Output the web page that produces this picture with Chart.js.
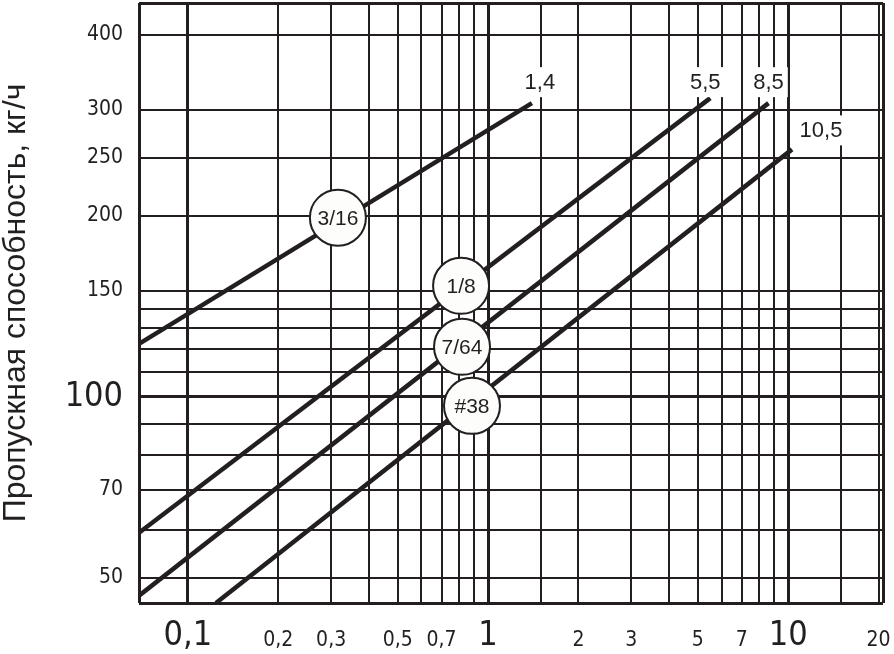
<!DOCTYPE html>
<html>
<head>
<meta charset="utf-8">
<script src="https://cdn.jsdelivr.net/npm/chart.js@4.4.1/dist/chart.umd.min.js"></script>
<style>
  html, body { margin: 0; padding: 0; background: #fff; }
  canvas { display: block; }
</style>
</head>
<body>
<canvas id="FlowChart" width="894" height="654"></canvas>
<script>
// labels at the line ends and in the circles
const endLabels = ['1,4', '5,5', '8,5', '10,5'];
const badgeLabels = ['3/16', '1/8', '7/64', '#38'];

// each line is straight on log-log paper: start and end
const xFrom = [0.0687, 0.0687, 0.0687, 0.124];
const yFrom = [122.5, 59.4, 46.7, 45.4];
const xTo = [1.4, 5.5, 8.6, 10.3];
const yTo = [308, 314, 308, 258];

// where the circles sit on the lines
const badgeX = [0.316, 0.813, 0.819, 0.884];
const badgeY = [198.6, 153, 121.1, 96.6];

// axes
const xMin = 0.0687, xMax = 20.7;
const yMin = 45.4, yMax = 452;
const xGridValues = [0.1, 0.2, 0.3, 0.4, 0.5, 0.6, 0.7, 0.8, 0.9, 1, 1.5, 2, 3, 4, 5, 6, 7, 8, 9, 10, 15, 20];
const xTickValues = [0.1, 0.2, 0.3, 0.5, 0.7, 1, 2, 3, 5, 7, 10, 20];
const xTickLabels = ['0,1', '0,2', '0,3', '0,5', '0,7', '1', '2', '3', '5', '7', '10', '20'];
const xBigTicks = [0.1, 1, 10];
const yGridValues = [50, 60, 70, 80, 90, 100, 110, 120, 130, 140, 150, 200, 250, 300, 400];
const yTickValues = [50, 70, 100, 150, 200, 250, 300, 400];
const yTickLabels = ['50', '70', '100', '150', '200', '250', '300', '400'];
const yBigTicks = [100];

const ink = '#231f20';
const narrow = '"Liberation Sans Narrow", "DejaVu Sans Condensed", sans-serif';
const plain = '"Liberation Sans", Arial, sans-serif';

function findIn(list, v)
{
    for (let i = 0; i < list.length; i++)
        if (Math.abs(list[i] - v) < 1e-9 * Math.max(1, Math.abs(v))) return i;
    return -1;
}

function tickValue(ctx)
{
    return ctx.tick ? ctx.tick.value : NaN;
}

// pixel nudges for the end labels, relative to the line end
const labelShift = [[8, -21], [-5, -16], [0, -21], [29, -19]];

const annotate = {
    id: 'annotate',
    afterDatasetsDraw(chart)
    {
        const ctx = chart.ctx;
        ctx.save();
        ctx.textAlign = 'center';
        ctx.textBaseline = 'middle';

        ctx.font = '22px ' + plain;
        for (let i = 0; i < endLabels.length; i++)
        {
            let pt = chart.getDatasetMeta(i + 1).data[1];
            let x = pt.x + labelShift[i][0];
            let y = pt.y + labelShift[i][1];
            let w = ctx.measureText(endLabels[i]).width + 8;
            ctx.fillStyle = '#fff';
            ctx.fillRect(x - w / 2, y - 15, w, 30);
            ctx.fillStyle = ink;
            ctx.fillText(endLabels[i], x, y + 1);
        }

        ctx.font = '21px ' + plain;
        ctx.fillStyle = ink;
        chart.getDatasetMeta(0).data.forEach(function(pt, i) {
            ctx.fillText(badgeLabels[i], pt.x, pt.y + 1);
        });
        ctx.restore();
    }
};

let datasets = [{
    label: 'badges',
    data: badgeX.map((x, i) => ({x: x, y: badgeY[i]})),
    showLine: false,
    pointRadius: 28,
    pointHoverRadius: 28,
    pointBackgroundColor: '#fdfdfb',
    pointBorderColor: ink,
    pointBorderWidth: 2,
    order: 0
}];
for (let i = 0; i < endLabels.length; i++)
{
    datasets.push({
        label: endLabels[i],
        data: [{x: xFrom[i], y: yFrom[i]}, {x: xTo[i], y: yTo[i]}],
        borderColor: ink,
        borderWidth: 4.5,
        borderCapStyle: 'butt',
        pointRadius: 0,
        fill: false,
        tension: 0,
        order: 1
    });
}

new Chart(document.getElementById('FlowChart').getContext('2d'), {
    type: 'line',
    data: { datasets: datasets },
    plugins: [annotate],
    options: {
        responsive: false,
        animation: false,
        layout: { autoPadding: false, padding: { left: 0, top: 3, right: 11, bottom: 0 } },
        plugins: { legend: { display: false }, tooltip: { enabled: false } },
        scales: {
            x: {
                type: 'logarithmic',
                min: xMin,
                max: xMax,
                afterBuildTicks: function(scale) {
                    scale.ticks = [xMin].concat(xGridValues, [xMax]).map(v => ({value: v}));
                },
                afterFit: function(scale) { scale.height = 51; },
                border: { display: false },
                grid: {
                    color: ink,
                    drawTicks: true,
                    tickLength: 10,
                    tickColor: 'rgba(0,0,0,0)',
                    lineWidth: function(ctx) {
                        let v = tickValue(ctx);
                        if (v === xMin || v === xMax || findIn(xBigTicks, v) >= 0) return 3;
                        return 2;
                    }
                },
                ticks: {
                    autoSkip: false,
                    maxRotation: 0,
                    minRotation: 0,
                    padding: 0,
                    color: ink,
                    callback: function(value) {
                        let k = findIn(xTickValues, value);
                        return k >= 0 ? xTickLabels[k] : '';
                    },
                    font: function(ctx) {
                        if (findIn(xBigTicks, tickValue(ctx)) >= 0)
                            return { family: narrow, size: 34, lineHeight: '46px' };
                        return { family: narrow, size: 21, lineHeight: '56px' };
                    }
                }
            },
            y: {
                type: 'logarithmic',
                min: yMin,
                max: yMax,
                afterBuildTicks: function(scale) {
                    scale.ticks = [yMin].concat(yGridValues, [yMax]).map(v => ({value: v}));
                },
                afterFit: function(scale) { scale.width = 139; },
                border: { display: false },
                grid: {
                    color: ink,
                    drawTicks: true,
                    tickLength: 16,
                    tickColor: 'rgba(0,0,0,0)',
                    lineWidth: function(ctx) {
                        let v = tickValue(ctx);
                        if (v === yMin || v === yMax || findIn(yBigTicks, v) >= 0) return 3;
                        return 2;
                    }
                },
                title: {
                    display: true,
                    text: 'Пропускная способность, кг/ч',
                    color: ink,
                    padding: 0,
                    font: { family: plain, size: 32, lineHeight: 1 }
                },
                ticks: {
                    autoSkip: false,
                    padding: 0,
                    color: ink,
                    callback: function(value) {
                        let k = findIn(yTickValues, value);
                        return k >= 0 ? yTickLabels[k] : '';
                    },
                    font: function(ctx) {
                        let v = tickValue(ctx);
                        if (v === yMin || v === yMax)
                            return { family: narrow, size: 21, lineHeight: '0px' };
                        if (findIn(yBigTicks, v) >= 0)
                            return { family: narrow, size: 34 };
                        return { family: narrow, size: 21 };
                    }
                }
            }
        }
    }
});
</script>
</body>
</html>
